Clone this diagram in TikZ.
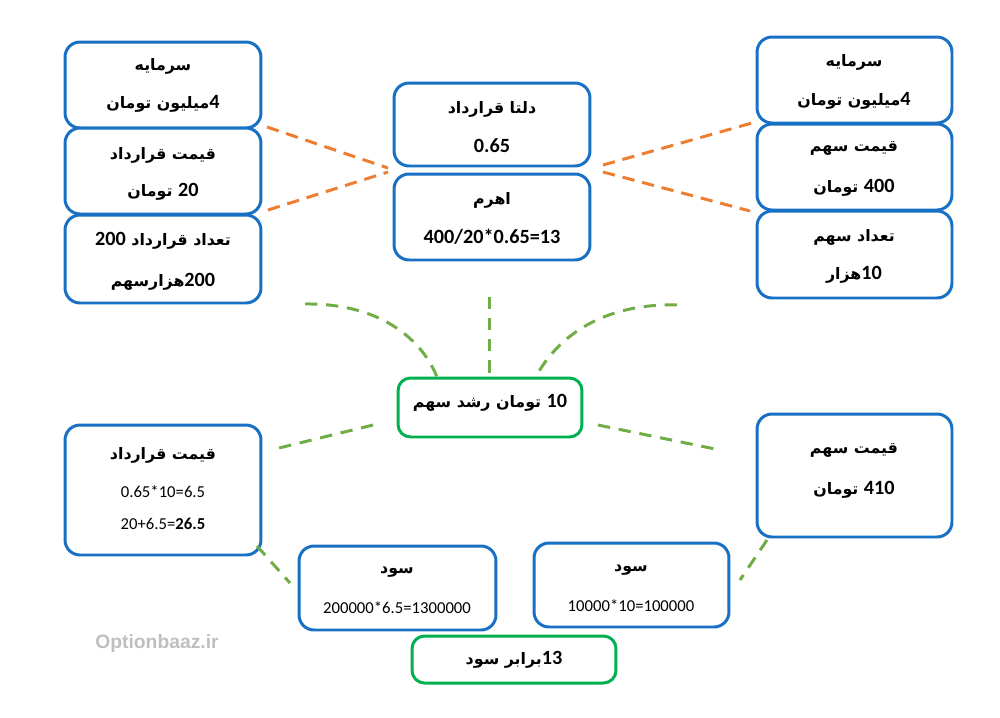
\documentclass[tikz,border=0pt]{standalone}
\usepackage{fontspec}
\setmainfont{Carlito}
\newfontfamily\fa[Script=Arabic]{DejaVu Sans}
\newfontfamily\wmfont{Liberation Sans}
\TeXXeTstate=1
\definecolor{bblue}{RGB}{24,112,196}
\definecolor{bgreen}{RGB}{0,176,80}
\definecolor{dorange}{RGB}{237,125,49}
\definecolor{dgreen}{RGB}{112,173,71}
\definecolor{wgrey}{RGB}{191,191,191}
\newcommand\fat[1]{{\fa\bfseries\fontsize{9}{11}\selectfont\beginR #1\endR}}
\newcommand\nm[1]{\beginL{\rmfamily\bfseries\fontsize{11.5}{13}\selectfont #1}\endL}
\newcommand\lat[1]{{\bfseries\fontsize{11.5}{13}\selectfont #1}}
\newcommand\plain[1]{{\fontsize{9.5}{12}\selectfont #1}}
\begin{document}
\begin{tikzpicture}[x=0.02cm,y=-0.02cm,
  bluebox/.style={draw=bblue,line width=1.7pt,rounded corners=0.3cm,fill=white,inner sep=0pt},
  greenbox/.style={draw=bgreen,line width=1.7pt,rounded corners=0.25cm,fill=white,inner sep=0pt},
  txt/.style={inner sep=0pt,anchor=center},
  odash/.style={draw=dorange,line width=1.7pt,dash pattern=on 7pt off 4.5pt},
  gdash/.style={draw=dgreen,line width=1.7pt,dash pattern=on 7pt off 5pt}]
\useasboundingbox (0,0) rectangle (1000,717);
% boxes
\node[bluebox,minimum width=3.92cm,minimum height=1.72cm] (L1) at (163,85) {};
\node[bluebox,minimum width=3.92cm,minimum height=1.72cm] (L2) at (163,171) {};
\node[bluebox,minimum width=3.92cm,minimum height=1.76cm] (L3) at (163,259) {};
\node[bluebox,minimum width=3.92cm,minimum height=1.66cm] (M1) at (492,124.5) {};
\node[bluebox,minimum width=3.92cm,minimum height=1.72cm] (M2) at (492,217) {};
\node[bluebox,minimum width=3.9cm,minimum height=1.72cm] (R1) at (854.5,80) {};
\node[bluebox,minimum width=3.9cm,minimum height=1.72cm] (R2) at (854.5,167) {};
\node[bluebox,minimum width=3.9cm,minimum height=1.74cm] (R3) at (854.5,254.5) {};
\node[greenbox,minimum width=3.68cm,minimum height=1.18cm] (G1) at (490,407.5) {};
\node[bluebox,minimum width=3.92cm,minimum height=2.6cm] (BL) at (163,490) {};
\node[bluebox,minimum width=3.9cm,minimum height=2.46cm] (BR) at (854.5,475.5) {};
\node[bluebox,minimum width=3.94cm,minimum height=1.68cm] (S1) at (397.5,588) {};
\node[bluebox,minimum width=3.9cm,minimum height=1.68cm] (S2) at (631.5,585) {};
\node[greenbox,minimum width=4.08cm,minimum height=0.94cm] (G2) at (514,659.5) {};
% texts
\node[txt] (L1a) at (163,66) {\fat{سرمایه}};
\node[txt] (L1b) at (163,104) {\fat{\nm{4}میلیون تومان}};
\node[txt] (L2a) at (163,155) {\fat{قیمت قرارداد}};
\node[txt] (L2b) at (163,192) {\fat{\nm{20} تومان}};
\node[txt] (L3a) at (163,241) {\fat{تعداد قرارداد \nm{200}}};
\node[txt] (L3b) at (163,282) {\fat{\nm{200}هزارسهم}};
\node[txt] (M1a) at (492,109) {\fat{دلتا قرارداد}};
\node[txt] (M1b) at (492,146) {\lat{0.65}};
\node[txt] (M2a) at (492,200) {\fat{اهرم}};
\node[txt] (M2b) at (492,237) {\lat{400/20*0.65=13}};
\node[txt] (R1a) at (854,62) {\fat{سرمایه}};
\node[txt] (R1b) at (854,101) {\fat{\nm{4}میلیون تومان}};
\node[txt] (R2a) at (854,148) {\fat{قیمت سهم}};
\node[txt] (R2b) at (854,188) {\fat{\nm{400} تومان}};
\node[txt] (R3a) at (854,237) {\fat{تعداد سهم}};
\node[txt] (R3b) at (854,275) {\fat{\nm{10}هزار}};
\node[txt] (G1a) at (490,403) {\fat{\nm{10} تومان رشد سهم}};
\node[txt] (BLa) at (163,455) {\fat{قیمت قرارداد}};
\node[txt] (BLb) at (163,492) {\plain{0.65*10=6.5}};
\node[txt] (BLc) at (163,524) {\plain{20+6.5=\textbf{26.5}}};
\node[txt] (BRa) at (854,450) {\fat{قیمت سهم}};
\node[txt] (BRb) at (854,490) {\fat{\nm{410} تومان}};
\node[txt] (S1a) at (397,572) {\fat{سود}};
\node[txt] (S1b) at (397,608) {\plain{200000*6.5=1300000}};
\node[txt] (S2a) at (631,570) {\fat{سود}};
\node[txt] (S2b) at (631,606) {\plain{10000*10=100000}};
\node[txt] (G2a) at (514,660) {\fat{\nm{13}برابر سود}};
\node[txt,text=wgrey] (wm) at (157,643) {\wmfont\bfseries\fontsize{11}{13}\selectfont Optionbaaz.ir};
% orange connectors
\coordinate (oa1) at (267,127); \coordinate (oa2) at (388,168);
\coordinate (ob1) at (268,210); \coordinate (ob2) at (388,172);
\coordinate (oc1) at (603,165); \coordinate (oc2) at (752,123);
\coordinate (od1) at (603,172); \coordinate (od2) at (750,211);
\draw[odash] (oa1) -- (oa2);
\draw[odash] (ob1) -- (ob2);
\draw[odash] (oc1) -- (oc2);
\draw[odash] (od1) -- (od2);
% green connectors
\coordinate (ga1) at (305,304); \coordinate (ga2) at (437,377);
\coordinate (gb1) at (489,297); \coordinate (gb2) at (489,378);
\coordinate (gc1) at (677,305); \coordinate (gc2) at (538,373);
\coordinate (gd1) at (373,425); \coordinate (gd2) at (275,449);
\coordinate (ge1) at (598,425); \coordinate (ge2) at (720,450);
\coordinate (gf1) at (257,546); \coordinate (gf2) at (290,583);
\coordinate (gg1) at (767,540); \coordinate (gg2) at (740,580);
\draw[gdash] (ga1) .. controls (375,303) and (420,335) .. (ga2);
\draw[gdash] (gb1) -- (gb2);
\draw[gdash] (gc1) .. controls (605,303) and (560,335) .. (gc2);
\draw[gdash] (gd1) -- (gd2);
\draw[gdash] (ge1) -- (ge2);
\draw[gdash] (gf1) -- (gf2);
\draw[gdash] (gg1) -- (gg2);
\end{tikzpicture}
\end{document}
